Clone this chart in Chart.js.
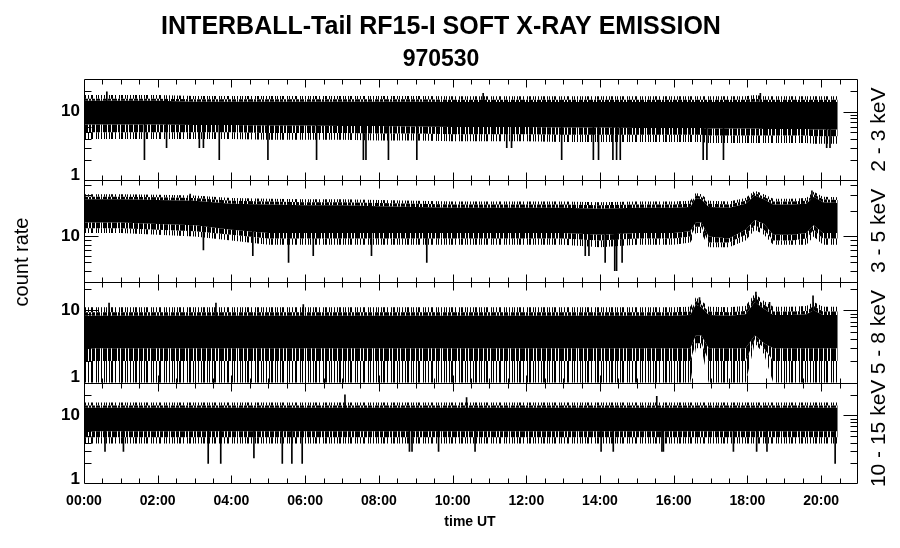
<!DOCTYPE html>
<html>
<head>
<meta charset="utf-8">
<script src="https://cdn.jsdelivr.net/npm/chart.js@4"></script>
<style>
  html, body { margin: 0; padding: 0; background: #fff; }
</style>
</head>
<body>
<canvas id="chart" width="900" height="548"></canvas>
<script>
// time in hours UT
const hours = [0, 1, 2, 3, 4, 5, 6, 7, 8, 9, 10, 11, 12, 13, 14, 15, 16, 16.45, 16.6, 16.75, 16.95, 17.5, 17.95, 18.2, 18.45, 18.7, 19.2, 19.6, 19.8, 20.05, 20.45];
const hourLabels = ['00:00', '02:00', '04:00', '06:00', '08:00', '10:00', '12:00', '14:00', '16:00', '18:00', '20:00'];
const bandNames = ['2 - 3 keV', '3 - 5 keV', '5 - 8 keV', '10 - 15 keV'];

// 2 - 3 keV : solid core, denser fringe, sparse fringe (count rate)
const p1CoreHi   = [14.5, 14.5, 14.5, 14, 14, 14, 14, 14, 14, 14, 13.8, 13.8, 13.8, 13.8, 13.8, 13.8, 13.8, 13.8, 13.8, 13.8, 13.8, 13.8, 13.8, 14, 13.8, 13.8, 13.8, 13.8, 13.8, 13.8, 13.8];
const p1DenseHi  = [15.5, 15.5, 15.5, 15.2, 15.2, 15.2, 15.2, 15.2, 15.2, 15.2, 15, 15, 15, 15, 15, 15, 15, 15, 15, 15, 15, 15, 15, 15.5, 15, 15, 15, 15, 15, 15, 15];
const p1SparseHi = [17.5, 17.5, 17.5, 17, 17, 17, 17, 17, 17, 17, 16.8, 16.8, 16.8, 16.8, 16.8, 16.8, 16.8, 16.8, 16.8, 16.8, 16.8, 16.8, 16.8, 17.5, 16.8, 16.8, 16.8, 16.8, 16.8, 16.8, 16.8];
const p1CoreLo   = [6.5, 6.5, 6.5, 6.4, 6.4, 6.3, 6.3, 6.2, 6.2, 6.1, 6, 6, 6, 5.9, 5.9, 5.8, 5.8, 5.8, 5.8, 5.8, 5.7, 5.7, 5.7, 5.7, 5.6, 5.6, 5.6, 5.6, 5.5, 5.5, 5.5];
const p1DenseLo  = [5, 5, 5, 5, 5, 4.9, 4.9, 4.9, 4.8, 4.8, 4.7, 4.7, 4.7, 4.6, 4.6, 4.6, 4.6, 4.6, 4.6, 4.6, 4.5, 4.5, 4.5, 4.5, 4.5, 4.5, 4.5, 4.5, 4.4, 4.4, 4.4];
const p1SparseLo = [4, 4, 4, 4, 4, 3.9, 3.9, 3.9, 3.8, 3.8, 3.7, 3.7, 3.7, 3.6, 3.6, 3.6, 3.6, 3.6, 3.6, 3.6, 3.5, 3.5, 3.5, 3.5, 3.5, 3.5, 3.5, 3.5, 3.4, 3.4, 3.4];
const p1DownAt = [1.64, 2.24, 3.13, 3.24, 3.67, 4.99, 6.31, 7.58, 7.65, 8.26, 9.03, 11.47, 11.6, 12.96, 13.82, 13.96, 14.35, 14.45, 14.55, 16.8, 16.9, 17.35, 20.15, 20.24];
const p1DownTo = [2, 3, 3, 3, 2, 2, 2, 2, 2, 2, 2, 3, 3, 2, 2, 2, 2, 2, 2, 2, 2, 2, 3, 3];
const p1UpAt = [0.62, 10.83, 18.35];
const p1UpTo = [19.5, 18.5, 18.5];

// 3 - 5 keV
const p2CoreHi   = [27, 27, 26.5, 26, 24, 23.5, 23, 23, 22.5, 22, 21.5, 21.5, 21.5, 21.5, 21, 21.5, 21.5, 22, 28, 27, 22, 21.5, 24, 30, 27, 23.5, 23.5, 24, 29, 25, 24.5];
const p2DenseHi  = [29, 29, 28.5, 28, 26, 25.5, 25, 25, 24.5, 24, 23.5, 23.5, 23.5, 23.5, 23, 23.5, 23.5, 24, 30, 29, 24, 23.5, 26, 32, 29, 25.5, 25.5, 26, 31, 27, 26.5];
const p2SparseHi = [31, 31, 30.5, 30, 28, 27.5, 27, 27, 26.5, 26, 25.5, 25.5, 25.5, 25.5, 25, 25.5, 25.5, 26, 32, 31, 26, 25.5, 28, 34, 31, 27.5, 27.5, 28, 33, 29, 28.5];
const p2CoreLo   = [14.5, 14.5, 14, 13.5, 12, 11, 11, 11, 11, 11, 11, 11, 11, 11, 10.5, 11, 11, 11.5, 14.5, 14.5, 10, 9.5, 12, 15.5, 14, 10.5, 10.5, 11, 13.5, 11, 11];
const p2DenseLo  = [12.5, 12.5, 12, 11.5, 10.5, 9.5, 9.5, 9.5, 9.5, 9.5, 9.5, 9.5, 9.5, 9.5, 9, 9.5, 9.5, 10, 13, 13, 8.5, 8.5, 10.5, 13.5, 12, 9, 9, 9.5, 12, 9.5, 9.5];
const p2SparseLo = [11, 11, 10.5, 10, 9, 8, 8, 8, 8, 8, 8, 8, 8, 8, 7.5, 8, 8, 8.5, 11, 11, 7.5, 7.5, 9, 12, 10.5, 8, 8, 8, 10, 8, 8];
const p2DownAt = [3.24, 4.58, 5.55, 6.22, 7.8, 9.3, 13.6, 13.7, 14.14, 14.4, 14.45, 14.6];
const p2DownTo = [7, 6, 5, 6, 6, 5, 6, 6, 5, 4, 4, 5];
const p2UpAt = [2.88, 19.75];
const p2UpTo = [31, 34];

// 5 - 8 keV
const p3CoreHi   = [8.4, 8.4, 8.4, 8.4, 8.4, 8.4, 8.4, 8.4, 8.4, 8.4, 8.4, 8.4, 8.4, 8.4, 8.4, 8.4, 8.4, 8.6, 12, 11, 8.6, 8.4, 8.8, 13, 10.5, 8.6, 8.6, 8.8, 10, 8.6, 8.6];
const p3DenseHi  = [9.4, 9.4, 9.4, 9.4, 9.4, 9.4, 9.4, 9.4, 9.4, 9.4, 9.4, 9.4, 9.4, 9.4, 9.4, 9.4, 9.4, 9.6, 13.5, 12, 9.6, 9.4, 9.8, 15, 12, 9.6, 9.6, 9.8, 11.5, 9.6, 9.6];
const p3SparseHi = [11, 11, 11, 11, 11, 11, 11, 11, 11, 11, 11, 11, 11, 11, 11, 11, 11, 11.2, 15, 13.5, 11.2, 11, 11.5, 17, 13.5, 11.2, 11.2, 11.5, 13, 11.2, 11.2];
const p3CoreLo   = [3, 3, 3, 3, 3, 3, 3, 3, 3, 3, 3, 3, 3, 3, 3, 3, 3, 3, 4.5, 4.5, 3, 3, 3, 4.5, 3.5, 3, 3, 3, 3, 3, 3];
const p3DenseLo  = [2, 2, 2, 2, 2, 2, 2, 2, 2, 2, 2, 2, 2, 2, 2, 2, 2, 2, 3.5, 3.5, 2, 2, 2, 4, 3, 2, 2, 2, 2, 2, 2];
const p3SparseLo = [1, 1, 1, 1, 1, 1, 1, 1, 1, 1, 1, 1, 1, 1, 1, 1, 1, 1, 3, 3, 1, 1, 1, 3.5, 2.5, 1, 1, 1, 1, 1, 1];
const p3DownAt = [];
const p3DownTo = [];
const p3UpAt = [0.68, 3.58, 5.95, 16.7, 18.23, 18.6, 19.78];
const p3UpTo = [12.6, 12.6, 12, 15, 17.8, 12.9, 15.9];

// 10 - 15 keV
const p4CoreHi   = [12.9, 12.9, 12.9, 12.9, 12.9, 12.9, 12.9, 12.9, 12.9, 12.9, 12.9, 12.9, 12.9, 12.9, 12.9, 12.9, 12.9, 12.9, 12.9, 12.9, 12.9, 12.9, 12.9, 12.9, 12.9, 12.9, 12.9, 12.9, 12.9, 12.9, 12.9];
const p4DenseHi  = [14, 14, 14, 14, 14, 14, 14, 14, 14, 14, 14, 14, 14, 14, 14, 14, 14, 14, 14, 14, 14, 14, 14, 14, 14, 14, 14, 14, 14, 14, 14];
const p4SparseHi = [15.5, 15.5, 15.5, 15.5, 15.5, 15.5, 15.5, 15.5, 15.5, 15.5, 15.5, 15.5, 15.5, 15.5, 15.5, 15.5, 15.5, 15.5, 15.5, 15.5, 15.5, 15.5, 15.5, 15.5, 15.5, 15.5, 15.5, 15.5, 15.5, 15.5, 15.5];
const p4CoreLo   = [5.9, 5.9, 5.9, 5.9, 5.9, 5.9, 5.9, 5.9, 5.9, 5.9, 5.9, 5.9, 5.9, 5.9, 5.9, 5.9, 5.9, 5.9, 5.9, 5.9, 5.9, 5.9, 5.9, 5.9, 5.9, 5.9, 5.9, 5.9, 5.9, 5.9, 5.9];
const p4DenseLo  = [4.8, 4.8, 4.8, 4.8, 4.8, 4.8, 4.8, 4.8, 4.8, 4.8, 4.8, 4.8, 4.8, 4.8, 4.8, 4.8, 4.8, 4.8, 4.8, 4.8, 4.8, 4.8, 4.8, 4.8, 4.8, 4.8, 4.8, 4.8, 4.8, 4.8, 4.8];
const p4SparseLo = [3.9, 3.9, 3.9, 3.9, 3.9, 3.9, 3.9, 3.9, 3.9, 3.9, 3.9, 3.9, 3.9, 3.9, 3.9, 3.9, 3.9, 3.9, 3.9, 3.9, 3.9, 3.9, 3.9, 3.9, 3.9, 3.9, 3.9, 3.9, 3.9, 3.9, 3.9];
const p4DownAt = [0.57, 1.07, 3.37, 3.71, 4.61, 5.38, 5.64, 5.92, 8.83, 8.9, 9.62, 10.61, 14.03, 14.36, 15.68, 15.72, 17.62, 18.25, 18.53, 20.38];
const p4DownTo = [3, 3, 2, 2, 2.4, 2, 2, 2, 3, 3, 3, 3, 3, 3, 3, 3, 3, 3, 3, 2];
const p4UpAt = [7.08, 10.38, 15.54];
const p4UpTo = [20, 18.3, 19];

// axis ranges and tick values per panel
const yMins = [1, 3, 1, 1];
const yMaxs = [30, 45, 25, 30];
const yTicks = [
  [2, 3, 4, 5, 6, 7, 8, 9, 10, 20],
  [4, 5, 6, 7, 8, 9, 10, 20, 30, 40],
  [2, 3, 4, 5, 6, 7, 8, 9, 10, 20],
  [2, 3, 4, 5, 6, 7, 8, 9, 10, 20]
];

// stripe textures for the noisy fringes
function stripes(mask) {
  const c = document.createElement('canvas');
  c.width = mask.length; c.height = 1;
  const g = c.getContext('2d');
  g.fillStyle = '#000';
  for (let i = 0; i < mask.length; i++) {
    if (mask[i] === '1') g.fillRect(i, 0, 1, 1);
  }
  return g.createPattern(c, 'repeat');
}
const densePattern = stripes('11011110111011011111011011101111010111101110111110110111101101111011');
const sparsePattern = stripes('10010100101100010100100110001010010010100101100100010110010100100101');

const panels = [
  [p1CoreHi, p1DenseHi, p1SparseHi, p1CoreLo, p1DenseLo, p1SparseLo, p1DownAt, p1DownTo, p1UpAt, p1UpTo, 9],
  [p2CoreHi, p2DenseHi, p2SparseHi, p2CoreLo, p2DenseLo, p2SparseLo, p2DownAt, p2DownTo, p2UpAt, p2UpTo, 15],
  [p3CoreHi, p3DenseHi, p3SparseHi, p3CoreLo, p3DenseLo, p3SparseLo, p3DownAt, p3DownTo, p3UpAt, p3UpTo, 5],
  [p4CoreHi, p4DenseHi, p4SparseHi, p4CoreLo, p4DenseLo, p4SparseLo, p4DownAt, p4DownTo, p4UpAt, p4UpTo, 9]
];

const pts = arr => hours.map((h, i) => ({ x: h, y: arr[i] }));
const band = (hi, lo, color, axis) => [
  { type: 'line', data: pts(hi), yAxisID: axis, fill: '+1', backgroundColor: color, borderWidth: 0, pointRadius: 0, tension: 0 },
  { type: 'line', data: pts(lo), yAxisID: axis, fill: false, borderWidth: 0, pointRadius: 0, tension: 0 }
];
const spikes = (at, to, base, axis) => ({
  type: 'bar', yAxisID: axis, backgroundColor: '#000', barThickness: 1, grouped: false,
  data: at.map((t, i) => ({ x: t, y: to[i] < base ? [to[i], base] : [base, to[i]] }))
});

const datasets = [];
const scales = {
  x: { type: 'linear', min: 0, max: 21, offset: false, display: false }
};
panels.forEach((p, i) => {
  const axis = 'y' + i;
  const [coreHi, denseHi, sparseHi, coreLo, denseLo, sparseLo, downAt, downTo, upAt, upTo, base] = p;
  datasets.push(spikes(downAt, downTo, base, axis));
  datasets.push(spikes(upAt, upTo, base, axis));
  datasets.push(...band(coreHi, coreLo, '#000', axis));
  datasets.push(...band(denseHi, coreHi, densePattern, axis));
  datasets.push(...band(coreLo, denseLo, densePattern, axis));
  datasets.push(...band(sparseHi, denseHi, sparsePattern, axis));
  datasets.push(...band(denseLo, sparseLo, sparsePattern, axis));
  scales[axis] = {
    type: 'logarithmic', min: yMins[i], max: yMaxs[i], position: 'left',
    stack: 'panels', stackWeight: 1, weight: 4 - i, display: false
  };
});

const framePlugin = {
  id: 'frames',
  afterDraw(chart) {
    const ctx = chart.ctx;
    const xs = chart.scales.x;
    const left = chart.chartArea.left, right = chart.chartArea.right;
    const seg = (x1, y1, x2, y2) => { ctx.beginPath(); ctx.moveTo(x1, y1); ctx.lineTo(x2, y2); ctx.stroke(); };
    ctx.save();
    ctx.strokeStyle = '#000';
    ctx.fillStyle = '#000';
    ctx.lineWidth = 1;
    const L = Math.round(left) + 0.5, R = Math.round(right) - 0.5;
    const topAll = Math.round(chart.scales.y0.top) + 0.5;
    const botAll = Math.round(chart.scales.y3.bottom) - 0.5;
    seg(L, topAll, L, botAll);
    seg(R, topAll, R, botAll);
    panels.forEach((p, i) => {
      const ys = chart.scales['y' + i];
      const top = Math.round(ys.top) + 0.5;
      const bottom = i === 3 ? botAll : Math.round(ys.bottom) + 0.5;
      seg(L, top, R, top);
      seg(L, bottom, R, bottom);
      for (let h = 0.5; h < 21; h += 0.5) {
        const x = Math.round(xs.getPixelForValue(h)) + 0.5;
        const len = h % 2 === 0 ? 8 : 5;
        seg(x, top, x, top + len);
        seg(x, bottom, x, bottom - len);
      }
      yTicks[i].forEach(v => {
        const y = Math.round(ys.getPixelForValue(v)) + 0.5;
        const len = v === 10 ? 14 : 7;
        seg(L, y, L + len, y);
        seg(R, y, R - len, y);
      });
      ctx.font = 'bold 17px "Liberation Sans", Arial, sans-serif';
      ctx.textAlign = 'right';
      ctx.textBaseline = 'middle';
      ctx.fillText('10', left - 4, ys.getPixelForValue(10));
      if (yMins[i] === 1) ctx.fillText('1', left - 4, ys.bottom - 5);
      // band name on the right
      ctx.save();
      ctx.translate(885, (ys.top + ys.bottom) / 2);
      ctx.rotate(-Math.PI / 2);
      ctx.font = '21px "Liberation Sans", Arial, sans-serif';
      ctx.textAlign = 'center';
      ctx.textBaseline = 'alphabetic';
      ctx.fillText(bandNames[i], 0, 0);
      ctx.restore();
    });
    const yb = chart.scales.y3.bottom;
    ctx.font = 'bold 14px "Liberation Sans", Arial, sans-serif';
    ctx.textAlign = 'center';
    ctx.textBaseline = 'middle';
    hourLabels.forEach((lab, k) => {
      ctx.fillText(lab, xs.getPixelForValue(k * 2), yb + 17);
    });
    ctx.fillText('time UT', 470, 522);
    // titles
    ctx.font = 'bold 25px "Liberation Sans", Arial, sans-serif';
    ctx.fillText('INTERBALL-Tail RF15-I SOFT X-RAY EMISSION', 441, 27);
    ctx.font = 'bold 23px "Liberation Sans", Arial, sans-serif';
    ctx.fillText('970530', 441, 60);
    // y title
    ctx.save();
    ctx.translate(28, 262);
    ctx.rotate(-Math.PI / 2);
    ctx.font = '20px "Liberation Sans", Arial, sans-serif';
    ctx.textAlign = 'center';
    ctx.textBaseline = 'alphabetic';
    ctx.fillText('count rate', 0, 0);
    ctx.restore();
    ctx.restore();
  }
};

new Chart(document.getElementById('chart'), {
  type: 'bar',
  data: { datasets },
  options: {
    responsive: false,
    animation: false,
    layout: { padding: { left: 84, right: 42, top: 79, bottom: 64 } },
    scales,
    plugins: { legend: { display: false }, tooltip: { enabled: false } }
  },
  plugins: [framePlugin]
});
</script>
</body>
</html>
